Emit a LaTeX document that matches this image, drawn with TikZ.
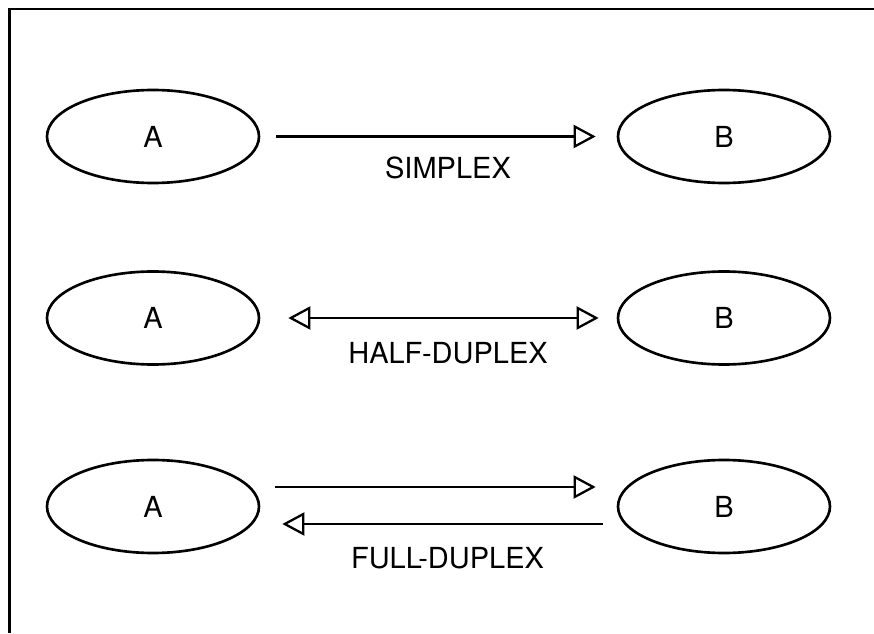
\documentclass[tikz,border=0pt]{standalone}
\usepackage{fontspec}
\setmainfont{TeX Gyre Heros}
\usetikzlibrary{shapes.geometric,arrows.meta}
\begin{document}
\begin{tikzpicture}[
    >={Triangle[open,length=0.44cm,width=0.46cm,line width=1.3pt]},
    station/.style={draw,ellipse,line width=1.5pt,minimum width=4.24cm,minimum height=1.86cm,inner sep=0pt},
    link/.style={line width=1.4pt},
    every node/.style={font=\fontsize{16.5}{18}\selectfont}]
        \useasboundingbox (0,0) rectangle (17.48,12.66);
        \draw[line width=1.6pt] (0.19,0) |- (17.48,12.48);

        \node[station] (a1) at (3.06,9.93) {A};
        \node[station] (b1) at (14.48,9.93) {B};
        \node[station] (a2) at (3.06,6.30) {A};
        \node[station] (b2) at (14.48,6.30) {B};
        \node[station] (a3) at (3.06,2.53) {A};
        \node[station] (b3) at (14.48,2.53) {B};

        \draw[link,->,shorten <=0.32cm,shorten >=0.42cm] (a1) -- (b1);
        \draw[link,<->,shorten <=0.56cm,shorten >=0.36cm] (a2) -- (b2);
        \draw[link,->] ([xshift=0.30cm,yshift=0.39cm]a3.east) -- ([xshift=-0.42cm,yshift=0.39cm]b3.west);
        \draw[link,->] ([xshift=-0.28cm,yshift=-0.35cm]b3.west) -- ([xshift=0.44cm,yshift=-0.35cm]a3.east);

        \node (simplex) at (8.96,9.30) {SIMPLEX};
        \node (half) at (8.96,5.60) {HALF-DUPLEX};
        \node (full) at (8.95,1.50) {FULL-DUPLEX};
    \end{tikzpicture}
\end{document}
